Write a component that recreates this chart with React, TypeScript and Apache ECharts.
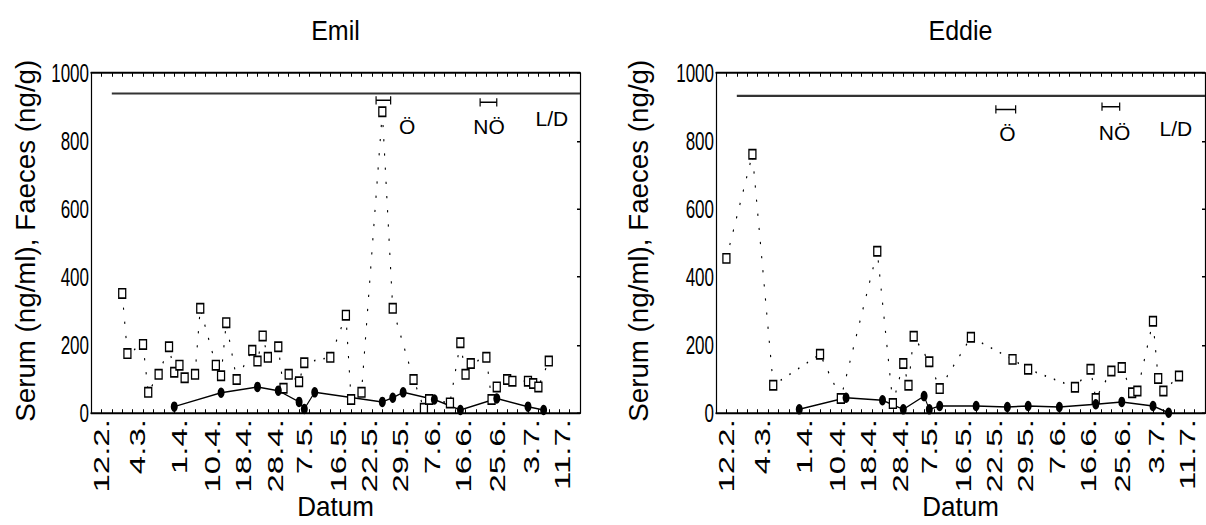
import React, { useEffect, useRef } from 'react';
import * as echarts from 'echarts';

// ---------- data ----------
const titles = ['Emil', 'Eddie'];
const yAxisName = 'Serum (ng/ml), Faeces (ng/g)';
const xAxisName = 'Datum';
const dateLabels = ['12.2.', '4.3.', '1.4.', '10.4.', '18.4.', '28.4.', '7.5.', '16.5.', '22.5.', '29.5.', '7.6.', '16.6.', '25.6.', '3.7.', '11.7.'];
const dateLabelPos = [1.0, 4.5, 8.5, 11.7, 14.7, 17.7, 20.5, 23.8, 26.8, 29.8, 32.8, 35.8, 39.1, 42.3, 45.3];

const emilFaecesX = [3, 3.5, 5, 5.5, 6.5, 7.5, 8, 8.5, 9, 10, 10.5, 12, 12.5, 13, 14, 15.5, 16, 16.5, 17, 18, 18.5, 19, 20, 20.5, 23, 24.5, 25, 26, 28, 29, 31, 32, 32.5, 34.5, 35.5, 36, 36.5, 38, 38.5, 39, 40, 40.5, 42, 42.5, 43, 44];
const emilFaecesY = [352, 175, 202, 61, 114, 195, 120, 141, 104, 114, 308, 141, 110, 266, 99, 185, 153, 227, 164, 195, 73, 114, 92, 148, 164, 288, 40, 61, 886, 308, 99, 14, 40, 30, 207, 114, 146, 164, 40, 77, 99, 94, 94, 87, 77, 153];
const emilSerumX = [8, 12.5, 16, 18, 20, 20.5, 21.5, 28, 29, 30, 33, 35.5, 39, 42, 43.5];
const emilSerumY = [19, 60, 77, 66, 33, 12, 61, 33, 45, 61, 40, 9, 43, 19, 9];

const eddieFaecesX = [1, 3.5, 5.5, 10, 12, 15.5, 17, 18, 18.5, 19, 20.5, 21.5, 24.5, 28.5, 30, 34.5, 36, 36.5, 38, 39, 40, 40.5, 42, 42.5, 43, 44.5];
const eddieFaecesY = [455, 761, 82, 173, 43, 476, 28, 146, 82, 226, 151, 72, 223, 158, 129, 76, 129, 43, 124, 134, 60, 65, 270, 102, 65, 109];
const eddieSerumX = [8, 12.5, 16, 18, 20, 20.5, 21.5, 25, 28, 30, 33, 36.5, 39, 42, 43.5];
const eddieSerumY = [11, 45, 38, 11, 50, 11, 21, 21, 18, 21, 18, 26, 33, 21, 1];

const refLineX = [2, 47];
const refLineY = [940, 933];

const annotTexts = ['Ö', 'NÖ', 'L/D'];
const emilAnnotX = [30.4, 38.25, 44.3];
const emilAnnotY = [842, 842, 867];
const eddieAnnotX = [28, 38.3, 44.2];
const eddieAnnotY = [823, 826, 837];

const emilBarStart = [27.4, 37.4];
const emilBarEnd = [28.8, 39.0];
const emilBarY = [920, 914];
const eddieBarStart = [26.9, 37.1];
const eddieBarEnd = [28.8, 38.8];
const eddieBarY = [893, 901];

// ---------- layout ----------
const SCALE_Y = 1.5;
const W = 1206;
const H = 350;
const FONT = '"Liberation Sans Narrow", "Arial Narrow", "Liberation Sans", Arial, sans-serif';
const gridLefts = [91, 716];
const gridTop = 48.7;
const gridW = 489;
const gridH = 226.7;
const yNameX = [25, 638];

function zip(xs: number[], ys: number[]) {
  return xs.map((x, i) => [x, ys[i]]);
}

const sets = [
  { fx: emilFaecesX, fy: emilFaecesY, sx: emilSerumX, sy: emilSerumY, ax: emilAnnotX, ay: emilAnnotY, bs: emilBarStart, be: emilBarEnd, by: emilBarY },
  { fx: eddieFaecesX, fy: eddieFaecesY, sx: eddieSerumX, sy: eddieSerumY, ax: eddieAnnotX, ay: eddieAnnotY, bs: eddieBarStart, be: eddieBarEnd, by: eddieBarY },
];

function buildOption() {
  const grids: any[] = [];
  const xAxes: any[] = [];
  const yAxes: any[] = [];
  const series: any[] = [];

  sets.forEach((d, g) => {
    grids.push({ left: gridLefts[g], top: gridTop, width: gridW, height: gridH, containLabel: false });
    const base = { type: 'value', gridIndex: g, min: 0, max: 47, splitLine: { show: false } };
    xAxes.push({
      ...base, position: 'bottom', interval: 1,
      axisLine: { show: true, onZero: false, lineStyle: { color: '#000', width: 1.2 } },
      axisTick: { show: true, inside: true, length: 2.5, lineStyle: { color: '#000', width: 1 } },
      axisLabel: { show: false },
    });
    xAxes.push({
      ...base, position: 'bottom', interval: 0.1,
      axisLine: { show: false }, axisTick: { show: false },
      axisLabel: {
        show: true, rotate: 90, margin: 4, fontSize: 22, color: '#000', fontFamily: FONT,
        formatter: (v: number) => {
          const i = dateLabelPos.findIndex((p) => Math.abs(p - v) < 0.02);
          return i >= 0 ? dateLabels[i] : '';
        },
      },
    });
    xAxes.push({
      ...base, position: 'top', interval: 1,
      axisLine: { show: true, onZero: false, lineStyle: { color: '#000', width: 1.2 } },
      axisTick: { show: true, inside: true, length: 2.5, lineStyle: { color: '#000', width: 1 } },
      axisLabel: { show: false },
    });
    yAxes.push({
      type: 'value', gridIndex: g, position: 'left', min: 0, max: 1000, interval: 200,
      splitLine: { show: false },
      axisLine: { show: true, onZero: false, lineStyle: { color: '#000', width: 1.2 } },
      axisTick: { show: false },
      axisLabel: { show: true, margin: 2, fontSize: 17, color: '#000', fontFamily: FONT, formatter: (v: number) => String(v) },
    });
    yAxes.push({
      type: 'value', gridIndex: g, position: 'right', min: 0, max: 1000, interval: 200,
      splitLine: { show: false },
      axisLine: { show: true, onZero: false, lineStyle: { color: '#000', width: 1.2 } },
      axisTick: { show: true, inside: true, length: 3, lineStyle: { color: '#000' } },
      axisLabel: { show: false },
    });

    const xi = g * 3;
    const yi = g * 2;
    series.push({
      type: 'line', xAxisIndex: xi, yAxisIndex: yi, silent: true,
      data: zip(refLineX, [refLineY[g], refLineY[g]]), symbol: 'none',
      lineStyle: { color: '#333', width: 1.4 },
    });
    series.push({
      type: 'line', xAxisIndex: xi, yAxisIndex: yi, silent: true,
      data: zip(d.fx, d.fy), symbol: 'rect', symbolSize: [7, 6.2], showAllSymbol: true,
      lineStyle: { color: '#000', width: 1.1, type: [1.5, 8] },
      itemStyle: { color: '#fff', borderColor: '#000', borderWidth: 1.2 },
    });
    series.push({
      type: 'line', xAxisIndex: xi, yAxisIndex: yi, silent: true,
      data: zip(d.sx, d.sy), symbol: 'circle', symbolSize: 7, showAllSymbol: true,
      lineStyle: { color: '#000', width: 1 },
      itemStyle: { color: '#000' },
    });
    d.bs.forEach((s, k) => {
      series.push({
        type: 'line', xAxisIndex: xi, yAxisIndex: yi, silent: true,
        data: [[s, d.by[k]], [d.be[k], d.by[k]]], symbol: 'rect', symbolSize: [1.2, 5.5], showAllSymbol: true,
        lineStyle: { color: '#000', width: 1 }, itemStyle: { color: '#000' },
      });
    });
  });

  return {
    animation: false,
    backgroundColor: '#fff',
    textStyle: { fontFamily: FONT },
    grid: grids, xAxis: xAxes, yAxis: yAxes, series,
  };
}

function buildTexts(chart: any) {
  const els: any[] = [];
  const txt = (x: number, y: number, text: string, fontSize: number, sx: number, sy: number, rotation = 0) => ({
    type: 'text', x, y, rotation, scaleX: sx, scaleY: sy, silent: true,
    style: { text, fontSize, fill: '#000', fontFamily: FONT, textAlign: 'center', textVerticalAlign: 'middle' },
  });
  sets.forEach((d, g) => {
    const cx = gridLefts[g] + gridW / 2;
    els.push(txt(cx, 20.7, titles[g], 25, 1, 0.72));
    els.push(txt(cx, 337.5, xAxisName, 26, 1, 0.72));
    els.push(txt(yNameX[g], 160.5, yAxisName, 28, 0.66, 1, Math.PI / 2));
    d.ax.forEach((x, k) => {
      const p = chart.convertToPixel({ xAxisIndex: g * 3, yAxisIndex: g * 2 }, [x, d.ay[k]]);
      els.push(txt(p[0], p[1], annotTexts[k], 21, 1, 0.66));
    });
  });
  return els;
}

export default function App() {
  const ref = useRef<HTMLDivElement>(null);
  useEffect(() => {
    if (!ref.current) return;
    const chart = echarts.init(ref.current, undefined, { renderer: 'svg' });
    chart.setOption(buildOption() as any);
    chart.setOption({ graphic: buildTexts(chart) } as any);
    return () => chart.dispose();
  }, []);
  return (
    <div
      ref={ref}
      style={{
        position: 'absolute', left: 0, top: 0, width: W, height: H,
        transform: `scaleY(${SCALE_Y})`, transformOrigin: '0 0', background: '#fff',
      }}
    />
  );
}
